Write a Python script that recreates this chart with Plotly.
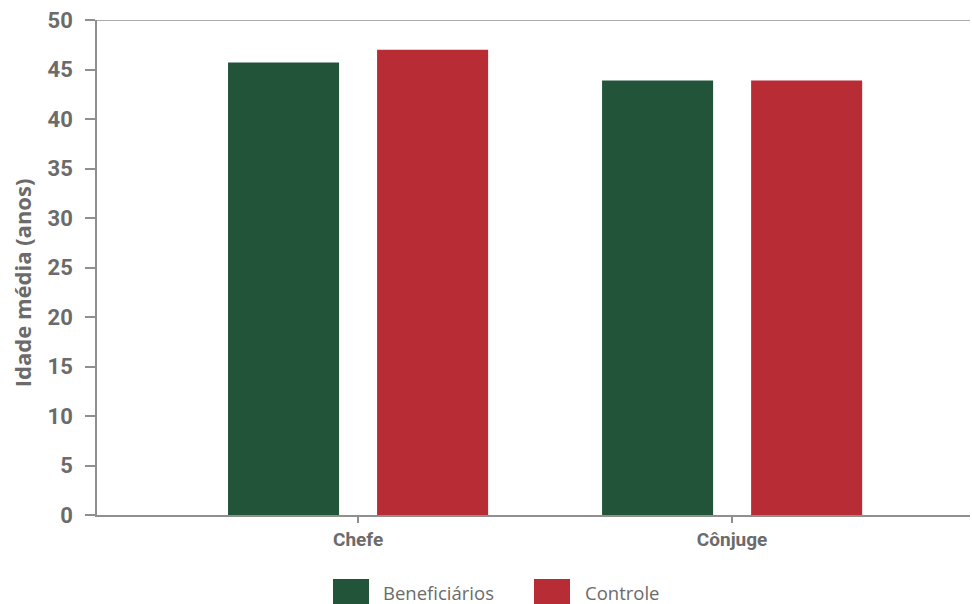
import plotly.graph_objects as go

# Average age by household role
categories = ["Chefe", "Cônjuge"]
series_names = ["Beneficiários", "Controle"]
beneficiarios = [45.7, 43.9]
controle = [47.0, 43.9]
y_ticks = [0, 5, 10, 15, 20, 25, 30, 35, 40, 45, 50]

colors = ["#22543A", "#B82C35"]
text_gray = "#6b6b6b"
axis_gray = "#8f8f8f"
font_family = "Roboto, Noto Sans, sans-serif"
wide_family = "Open Sans, Roboto, sans-serif"

fig = go.Figure()
for name, vals, col in zip(series_names, [beneficiarios, controle], colors):
    fig.add_trace(go.Bar(x=categories, y=vals, name=name, marker_color=col,
                         marker_line_width=0, showlegend=False))

W, H = 972, 604
ml, mr, mt, mb = 97, 2, 19.5, 89
pw, ph = W - ml - mr, H - mt - mb


def px_x(px):
    return (px - ml) / pw


def px_y(py):
    return (H - mb - py) / ph


fig.update_layout(
    width=W, height=H,
    margin=dict(l=ml, r=mr, t=mt, b=mb, pad=0),
    paper_bgcolor="white", plot_bgcolor="white",
    barmode="group", bargap=0.203, bargroupgap=0.255,
    font=dict(family=font_family, color=text_gray),
    xaxis=dict(
        range=[-0.698, 1.636], showgrid=False, zeroline=False,
        showline=True, linecolor=axis_gray, linewidth=1.5,
        ticks="outside", ticklen=6, tickcolor=axis_gray, tickwidth=1.5,
        tickfont=dict(size=19, family=font_family, color=text_gray, weight="bold"),
    ),
    yaxis=dict(
        range=[0, 50], tickvals=y_ticks, showgrid=False, zeroline=False,
        showline=True, linecolor=axis_gray, linewidth=1.5,
        ticks="outside", ticklen=10, tickcolor=axis_gray, tickwidth=1.5,
        ticklabelstandoff=8,
        tickfont=dict(size=22, family=font_family, color=text_gray, weight="bold"),
    ),
    showlegend=False,
)

# Top border line at the axis maximum
fig.add_shape(type="line", xref="paper", yref="y", x0=0, x1=1, y0=50, y1=50,
              line=dict(color=axis_gray, width=1.5))

# Rotated y-axis title
fig.add_annotation(text="Idade média (anos)", textangle=-90, showarrow=False,
                   xref="paper", yref="paper", x=px_x(22), y=px_y(283),
                   xanchor="center", yanchor="middle",
                   font=dict(size=22, family=wide_family, color=text_gray, weight="bold"))

# Legend drawn below the plot
legend_boxes = [(333, 369, 381), (534, 570, 583)]
for (bx0, bx1, tx), name, col in zip(legend_boxes, series_names, colors):
    fig.add_shape(type="rect", xref="paper", yref="paper",
                  x0=px_x(bx0), x1=px_x(bx1), y0=px_y(604), y1=px_y(579),
                  fillcolor=col, line_width=0)
    fig.add_annotation(text=name, showarrow=False, xref="paper", yref="paper",
                       x=px_x(tx), y=px_y(593), xanchor="left", yanchor="middle",
                       font=dict(size=18.5, family=wide_family, color=text_gray))

fig.write_html("out.html")
